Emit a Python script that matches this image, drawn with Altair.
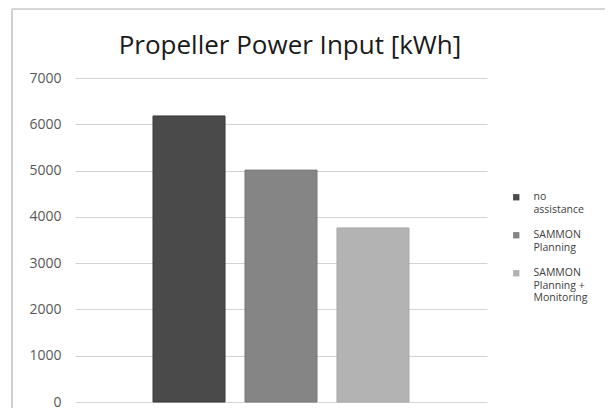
import altair as alt
import pandas as pd

series = ["no assistance", "SAMMON Planning", "SAMMON Planning + Monitoring"]
values = [6180, 5010, 3760]
colors = ["#4a4a4a", "#858585", "#b3b3b3"]
y_ticks = [0, 1000, 2000, 3000, 4000, 5000, 6000, 7000]

df = pd.DataFrame({"series": series, "value": values})

label_expr = (
    "datum.label == 'no assistance' ? ['no', 'assistance'] : "
    "datum.label == 'SAMMON Planning' ? ['SAMMON', 'Planning'] : "
    "['SAMMON', 'Planning +', 'Monitoring']"
)

bars = alt.Chart(df).mark_bar(strokeWidth=1).encode(
    x=alt.X("series:N", sort=series, axis=None,
            scale=alt.Scale(paddingInner=0.217, paddingOuter=0.848)),
    y=alt.Y("value:Q",
            scale=alt.Scale(domain=[0, 7000], nice=False),
            axis=alt.Axis(values=y_ticks, format="d", title=None, domain=False, ticks=False,
                          labelPadding=14, labelFont="Open Sans", labelFontSize=14,
                          labelColor="#595959", gridColor="#d4d4d4", gridWidth=1)),
    color=alt.Color("series:N", sort=series,
                    scale=alt.Scale(domain=series, range=colors),
                    legend=alt.Legend(title=None, orient="none", legendX=436, legendY=114,
                                      symbolType="square", symbolSize=40,
                                      labelFont="Open Sans", labelFontSize=10.5,
                                      labelColor="#404040", labelExpr=label_expr,
                                      rowPadding=14, labelOffset=12, symbolStrokeWidth=0)),
    stroke=alt.Stroke("series:N", sort=series,
                      scale=alt.Scale(domain=series, range=["#3a3a3a", "#777777", "#a8a8a8"]),
                      legend=None),
)

border_left = alt.Chart(df).mark_rule(color="#d0d0d0", strokeWidth=2).encode(
    x=alt.value(-63), y=alt.value(-69), y2=alt.value(330)
)
border_top = alt.Chart(df).mark_rule(color="#d6d6d6", strokeWidth=2).encode(
    x=alt.value(-63), x2=alt.value(530), y=alt.value(-69)
)

chart = alt.layer(border_left, border_top, bars).properties(
    width=412, height=324,
    padding={"left": 67, "top": 70, "right": 120, "bottom": 7},
    autosize=alt.AutoSizeParams(type="none"),
    background="white",
    title=alt.TitleParams("Propeller Power Input [kWh]", font="Open Sans", fontSize=26,
                          fontWeight="normal", color="#1a1a1a", anchor="middle",
                          dx=9, offset=-51),
).configure_view(stroke=None)

chart.save("out.html", embed_options={"renderer": "svg", "actions": False})
